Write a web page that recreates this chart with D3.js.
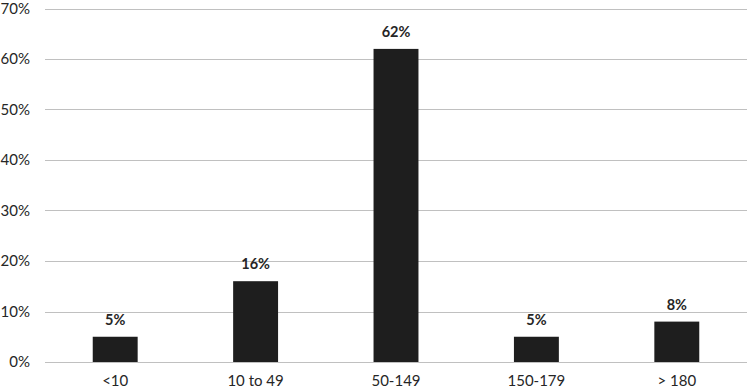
<!DOCTYPE html>
<html>
<head>
<meta charset="utf-8">
<script src="https://cdn.jsdelivr.net/npm/d3@7"></script>
<style>
  body { margin: 0; background: #fff; }
  svg { display: block; font-family: Lato, "Open Sans", sans-serif; }
</style>
</head>
<body>
<svg id="chart"></svg>
<script>
// Chart data
const categories = ["<10", "10 to 49", "50-149", "150-179", "> 180"];
const values = [5, 16, 62, 5, 8];
const yTicks = [0, 10, 20, 30, 40, 50, 60, 70];

const W = 750, H = 391;
const margin = { left: 45, right: 747, top: 8.5, bottom: 362 };

const svg = d3.select("#chart").attr("width", W).attr("height", H);

const x = d3.scaleBand()
    .domain(categories)
    .range([margin.left, margin.right])
    .paddingInner(0.68)
    .paddingOuter(0.34);

const y = d3.scaleLinear()
    .domain([0, 70])
    .range([margin.bottom, margin.top]);

// Gridlines
svg.append("g")
    .selectAll("line")
    .data(yTicks)
    .enter()
    .append("line")
    .attr("x1", margin.left)
    .attr("x2", margin.right)
    .attr("y1", d => Math.round(y(d)) + 0.5)
    .attr("y2", d => Math.round(y(d)) + 0.5)
    .attr("stroke", "#c0c0c0")
    .attr("stroke-width", 1.2);

// Y labels
svg.append("g")
    .selectAll("text")
    .data(yTicks)
    .enter()
    .append("text")
    .attr("x", 30)
    .attr("y", d => y(d) + 5)
    .attr("text-anchor", "end")
    .style("font-size", "15px")
    .style("fill", "#262626")
    .text(d => d + "%");

// Bars
svg.append("g")
    .selectAll("rect")
    .data(values)
    .enter()
    .append("rect")
    .attr("x", (d, i) => x(categories[i]))
    .attr("width", x.bandwidth())
    .attr("y", d => y(d))
    .attr("height", d => y(0) - y(d))
    .attr("fill", "#1e1e1e");

// Value labels
svg.append("g")
    .selectAll("text")
    .data(values)
    .enter()
    .append("text")
    .attr("x", (d, i) => x(categories[i]) + x.bandwidth() / 2)
    .attr("y", d => y(d) - 12)
    .attr("text-anchor", "middle")
    .style("font-size", "14.5px")
    .style("font-weight", "bold")
    .style("fill", "#262626")
    .text(d => d + "%");

// X labels
svg.append("g")
    .selectAll("text")
    .data(categories)
    .enter()
    .append("text")
    .attr("x", d => x(d) + x.bandwidth() / 2)
    .attr("y", 386)
    .attr("text-anchor", "middle")
    .style("font-size", "15px")
    .style("fill", "#262626")
    .text(d => d);
</script>
</body>
</html>
